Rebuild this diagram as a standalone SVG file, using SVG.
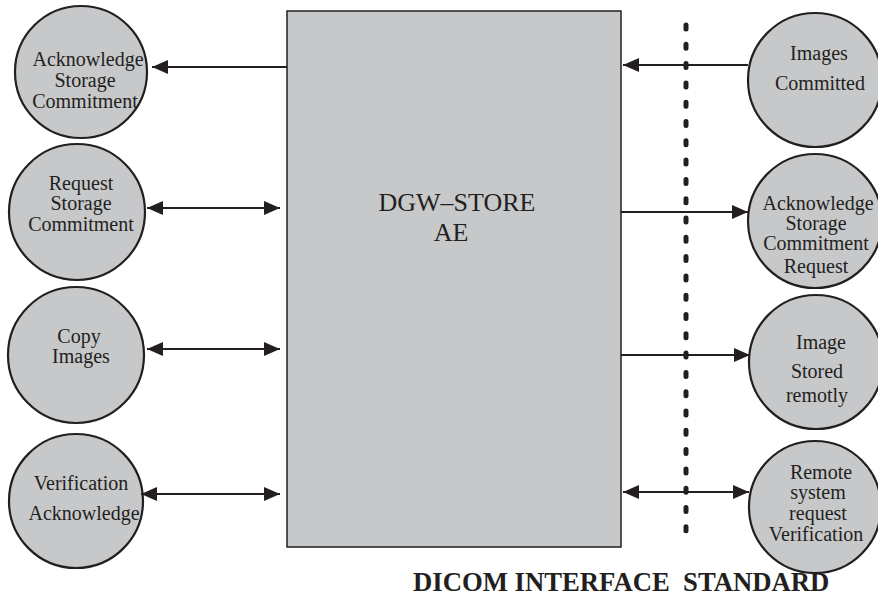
<svg xmlns="http://www.w3.org/2000/svg" width="878" height="596" viewBox="0 0 878 596">
<defs>
<style>
text{font-family:'Liberation Serif','Times New Roman',Times,serif;fill:#231f20}
.node{fill:#c7c8ca;stroke:#231f20;stroke-width:2.2}
.box{fill:#c7c8ca;stroke:#231f20;stroke-width:1.5}
.t{font-size:20px;text-anchor:middle}
.big{font-size:26px;text-anchor:middle}
.title{font-size:26.7px;font-weight:bold}
.c{stroke:#231f20;stroke-width:2;fill:none}
</style>
<marker id="ah" viewBox="0 0 16 14" refX="16" refY="7" markerWidth="16" markerHeight="14" markerUnits="userSpaceOnUse" orient="auto-start-reverse">
<path d="M0,0 L16,7 L0,14 Z" fill="#231f20"/>
</marker>
</defs>
<rect width="878" height="596" fill="#ffffff"/>

<g id="dgw-store">
<rect class="box" x="287" y="11" width="334" height="536"/>
<text class="big" x="457" y="211">DGW–STORE</text>
<text class="big" x="451" y="241">AE</text>
</g>

<g id="ack-storage-commitment">
<circle class="node" cx="81" cy="72" r="66"/>
<text class="t" x="88" y="66">Acknowledge</text>
<text class="t" x="85" y="87">Storage</text>
<text class="t" x="85" y="108">Commitment</text>
</g>
<g id="request-storage-commitment">
<circle class="node" cx="77" cy="212" r="68"/>
<text class="t" x="81" y="190">Request</text>
<text class="t" x="81" y="210">Storage</text>
<text class="t" x="81" y="231">Commitment</text>
</g>
<g id="copy-images">
<circle class="node" cx="76" cy="355" r="68"/>
<text class="t" x="79" y="343">Copy</text>
<text class="t" x="81" y="363">Images</text>
</g>
<g id="verification-acknowledge">
<circle class="node" cx="76" cy="501" r="67"/>
<text class="t" x="81" y="490">Verification</text>
<text class="t" x="84" y="520">Acknowledge</text>
</g>

<g id="images-committed">
<circle class="node" cx="815" cy="80" r="67"/>
<text class="t" x="819" y="60">Images</text>
<text class="t" x="820" y="90">Committed</text>
</g>
<g id="ack-storage-commitment-request">
<circle class="node" cx="815" cy="221" r="67"/>
<text class="t" x="818" y="210">Acknowledge</text>
<text class="t" x="816" y="230">Storage</text>
<text class="t" x="816" y="250">Commitment</text>
<text class="t" x="816" y="273">Request</text>
</g>
<g id="image-stored-remotly">
<circle class="node" cx="816" cy="362" r="67"/>
<text class="t" x="821" y="349">Image</text>
<text class="t" x="817" y="378">Stored</text>
<text class="t" x="817" y="402">remotly</text>
</g>
<g id="remote-system-request-verification">
<circle class="node" cx="815" cy="507" r="66"/>
<text class="t" x="821" y="479">Remote</text>
<text class="t" x="818" y="499">system</text>
<text class="t" x="818" y="520">request</text>
<text class="t" x="816" y="541">Verification</text>
</g>

<g id="connectors">
<line class="c" x1="287" y1="67" x2="152" y2="67" marker-end="url(#ah)"/>
<line class="c" x1="147" y1="208" x2="280" y2="208" marker-start="url(#ah)" marker-end="url(#ah)"/>
<line class="c" x1="147" y1="349" x2="280" y2="349" marker-start="url(#ah)" marker-end="url(#ah)"/>
<line class="c" x1="141" y1="494" x2="280" y2="494" marker-start="url(#ah)" marker-end="url(#ah)"/>
<line class="c" x1="748" y1="65" x2="623" y2="65" marker-end="url(#ah)"/>
<line class="c" x1="621" y1="212" x2="748" y2="212" marker-end="url(#ah)"/>
<line class="c" x1="621" y1="355" x2="750" y2="355" marker-end="url(#ah)"/>
<line class="c" x1="623" y1="492" x2="749" y2="492" marker-start="url(#ah)" marker-end="url(#ah)"/>
</g>

<g id="interface-boundary">
<line x1="686" y1="25" x2="686" y2="545" stroke="#231f20" stroke-width="5" stroke-linecap="round" stroke-dasharray="4 15.3"/>
<text class="title" x="413" y="591" xml:space="preserve">DICOM INTERFACE  STANDARD</text>
</g>
</svg>
